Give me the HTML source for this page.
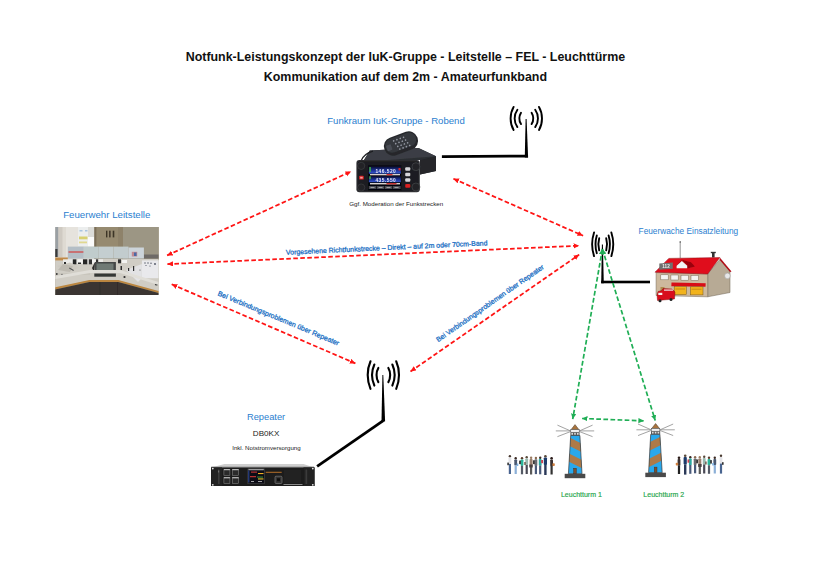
<!DOCTYPE html>
<html><head><meta charset="utf-8">
<style>
html,body{margin:0;padding:0;background:#fff;width:820px;height:580px;overflow:hidden}
svg{display:block}
text{font-family:"Liberation Sans",sans-serif}
</style></head>
<body>
<svg width="820" height="580" viewBox="0 0 820 580">
<defs>
  <linearGradient id="scr" x1="0" y1="0" x2="0" y2="1"><stop offset="0" stop-color="#0a0f30"/><stop offset="0.6" stop-color="#1e34a0"/><stop offset="1" stop-color="#3a5ad0"/></linearGradient>
  <filter id="bl" x="-10%" y="-10%" width="120%" height="120%"><feGaussianBlur stdDeviation="0.35"/></filter>
  <marker id="ar" markerUnits="userSpaceOnUse" markerWidth="8" markerHeight="8" refX="5.6" refY="2.6" orient="auto-start-reverse">
    <path d="M0,0 L5.6,2.6 L0,5.2 Z" fill="#ff1414"/>
  </marker>
  <marker id="ag" markerUnits="userSpaceOnUse" markerWidth="8" markerHeight="8" refX="5.4" refY="2.6" orient="auto-start-reverse">
    <path d="M0,0 L5.4,2.6 L0,5.2 Z" fill="#1fae55"/>
  </marker>
  <g id="ant">
    <g fill="none" stroke="#000" stroke-width="1.8" stroke-linecap="round">
      <path d="M-5.3,-5.7 Q-8.3,0 -5.3,5.7"/>
      <path d="M-8.9,-8.7 Q-14.4,0 -8.9,8.7"/>
      <path d="M-12.7,-11.5 Q-18.7,0 -12.7,11.5"/>
      <path d="M5.3,-5.7 Q8.3,0 5.3,5.7"/>
      <path d="M8.9,-8.7 Q14.4,0 8.9,8.7"/>
      <path d="M12.7,-11.5 Q18.7,0 12.7,11.5"/>
    </g>
  </g>
</defs>

<!-- Title -->
<text x="405.4" y="60.8" font-size="12.43" font-weight="bold" text-anchor="middle" fill="#111">Notfunk-Leistungskonzept der IuK-Gruppe - Leitstelle – FEL - Leuchttürme</text>
<text x="405.4" y="81.1" font-size="12.43" font-weight="bold" text-anchor="middle" fill="#111">Kommunikation auf dem 2m - Amateurfunkband</text>

<!-- Labels -->
<text x="396" y="124" font-size="9.6" text-anchor="middle" fill="#2b80cf">Funkraum IuK-Gruppe - Robend</text>
<text x="106.8" y="217.8" font-size="9.7" text-anchor="middle" fill="#2b80cf">Feuerwehr Leitstelle</text>
<text x="688.4" y="233.5" font-size="8.3" text-anchor="middle" fill="#2b80cf">Feuerwache Einsatzleitung</text>
<text x="266.1" y="419.5" font-size="9.3" text-anchor="middle" fill="#2b80cf">Repeater</text>
<text x="266.1" y="435.7" font-size="8.1" text-anchor="middle" fill="#222">DB0KX</text>
<text x="266.4" y="449.8" font-size="6.14" text-anchor="middle" fill="#222">Inkl. Notstromversorgung</text>
<text x="396.2" y="205.7" font-size="6.2" text-anchor="middle" fill="#222">Ggf. Moderation der Funkstrecken</text>
<text x="581.4" y="496.9" font-size="7" text-anchor="middle" fill="#1ea54a" stroke="#1ea54a" stroke-width="0.15">Leuchtturm 1</text>
<text x="663.8" y="496.9" font-size="7" text-anchor="middle" fill="#1ea54a" stroke="#1ea54a" stroke-width="0.15">Leuchtturm 2</text>

<!-- rotated labels -->
<text transform="translate(286.1,254.8) rotate(-2.7)" font-size="6.93" fill="#1a6fc4" stroke="#1a6fc4" stroke-width="0.28">Vorgesehene Richtfunkstrecke – Direkt – auf 2m oder 70cm-Band</text>
<text transform="translate(217.3,295.3) rotate(22.6)" font-size="7" fill="#1a6fc4" stroke="#1a6fc4" stroke-width="0.28">Bei Verbindungsproblemen über Repeater</text>
<text transform="translate(438.2,342.3) rotate(-34.9)" font-size="6.95" fill="#1a6fc4" stroke="#1a6fc4" stroke-width="0.28">Bei Verbindungsproblemen über Repeater</text>

<!-- Red dashed arrows -->
<g fill="none" stroke="#ff1414" stroke-width="1.75" stroke-dasharray="4.6 2.4" marker-start="url(#ar)" marker-end="url(#ar)">
  <line x1="167.1" y1="255.4" x2="351.1" y2="171.5"/>
  <line x1="167.4" y1="264.1" x2="579.2" y2="245.7"/>
  <line x1="453.4" y1="178.7" x2="583.1" y2="235.7"/>
  <line x1="410.5" y1="371.5" x2="579.2" y2="254.6"/>
  <line x1="171.7" y1="284.3" x2="355.4" y2="363.4"/>
</g>

<!-- Antenna top (Robend) -->
<g fill="none" stroke="#000" stroke-width="1.9" stroke-linecap="round"><path d="M521.00,112.70 A6.80,9.10 0 0 0 521.00,124.10"/><path d="M531.60,112.70 A6.80,9.10 0 0 1 531.60,124.10"/><path d="M517.40,109.70 A11.65,13.48 0 0 0 517.40,127.10"/><path d="M535.20,109.70 A11.65,13.48 0 0 1 535.20,127.10"/><path d="M513.60,106.90 A15.70,19.56 0 0 0 513.60,129.90"/><path d="M539.00,106.90 A15.70,19.56 0 0 1 539.00,129.90"/></g>
<path d="M525.6,119 L526.6,119 L528.1,157.5 L524.8,157.5 Z" fill="#000"/>
<path d="M441.9,155.3 L528,154.7 L528,157.5 L441.9,158 Z" fill="#000"/>

<!-- Antenna right (Feuerwache) -->
<g fill="none" stroke="#000" stroke-width="1.9" stroke-linecap="round"><path d="M599.20,238.20 A4.30,10.50 0 0 0 599.20,250.40"/><path d="M606.20,238.20 A4.30,10.50 0 0 1 606.20,250.40"/><path d="M596.80,235.40 A7.10,16.00 0 0 0 596.80,253.20"/><path d="M608.60,235.40 A7.10,16.00 0 0 1 608.60,253.20"/><path d="M594.05,232.50 A10.40,21.25 0 0 0 594.05,256.10"/><path d="M611.35,232.50 A10.40,21.25 0 0 1 611.35,256.10"/></g>
<path d="M601.9,244.5 L602.9,244.5 L603.8,283.3 L601.2,283.3 Z" fill="#000"/>
<rect x="601.2" y="280.7" width="48.8" height="2.6" fill="#000"/>

<!-- Antenna repeater -->
<g fill="none" stroke="#000" stroke-width="2.1" stroke-linecap="round"><path d="M378.35,367.95 A6.80,10.48 0 0 0 378.35,382.15"/><path d="M388.35,367.95 A6.80,10.48 0 0 1 388.35,382.15"/><path d="M374.35,364.55 A11.10,17.94 0 0 0 374.35,385.55"/><path d="M392.35,364.55 A11.10,17.94 0 0 1 392.35,385.55"/><path d="M370.50,361.25 A15.65,24.18 0 0 0 370.50,388.85"/><path d="M396.20,361.25 A15.65,24.18 0 0 1 396.20,388.85"/></g>
<path d="M382.4,375 L383.3,375 L385.1,421.5 L381.5,421.5 Z" fill="#000"/>
<line x1="317.1" y1="466.3" x2="383.3" y2="420.6" stroke="#000" stroke-width="2.8"/>

<!-- Green dashed arrows -->
<g fill="none" stroke="#1fae55" stroke-width="1.7" stroke-dasharray="4.7 2.4" marker-start="url(#ag)" marker-end="url(#ag)">
  <line x1="602.4" y1="249" x2="572.7" y2="419.1"/>
  <line x1="602.4" y1="249" x2="655.2" y2="420.5"/>
  <line x1="582.1" y1="418.5" x2="643.8" y2="420.8"/>
</g>

<!-- Leitstelle photo -->
<g id="leit" filter="url(#bl)">
  <rect x="55.3" y="227" width="103.2" height="68" fill="#a59c8a"/>
  <!-- left wall -->
  <rect x="55.3" y="227" width="39.5" height="32" fill="#dedad2"/>
  <rect x="55.3" y="227" width="3.2" height="30" fill="#9aa0a4"/>
  <rect x="55.3" y="249" width="2.2" height="8" fill="#3a3a3a"/>
  <rect x="58.5" y="227" width="4" height="30" fill="#cfcac2"/>
  <rect x="66" y="227" width="12" height="30" fill="#e6e3dd"/>
  <rect x="78" y="227" width="10" height="19.5" fill="#eceeee"/>
  <rect x="79.5" y="230" width="3" height="1.5" fill="#a8c4e0"/>
  <rect x="85" y="230" width="2.5" height="1.5" fill="#a8c4e0"/>
  <rect x="79" y="236.5" width="8.5" height="2.8" fill="#d8d070"/>
  <rect x="79" y="241.5" width="8" height="1.8" fill="#e0d890"/>
  <rect x="88" y="227" width="6.6" height="10" fill="#dcdcd8"/>
  <rect x="88" y="237" width="6.6" height="9.5" fill="#fbfbfa"/>
  <!-- right wall -->
  <rect x="94.4" y="227" width="64.1" height="33" fill="#968a70"/>
  <rect x="94.4" y="227" width="2" height="33" fill="#7a6e58"/>
  <rect x="118" y="227" width="5" height="33" fill="#8e826a"/>
  <rect x="123" y="227" width="35.5" height="33" fill="#9c9684"/>
  <rect x="106" y="230.7" width="1.4" height="6.7" fill="#3e3428"/>
  <rect x="109.1" y="230.7" width="1.5" height="6.7" fill="#3e3428"/>
  <rect x="112.7" y="230.7" width="1.6" height="6.7" fill="#3e3428"/>
  <rect x="143.9" y="254.5" width="14.6" height="4" fill="#6e6a66"/>
  <!-- monitors -->
  <rect x="67.8" y="246.6" width="16" height="12" fill="#b4bec6"/>
  <rect x="68.5" y="251.3" width="15" height="1.4" fill="#d05050"/>
  <rect x="83.8" y="246.6" width="15" height="12" fill="#c0cccc"/>
  <rect x="98.8" y="246.6" width="14.5" height="12" fill="#c4ced0"/>
  <rect x="113.3" y="246.6" width="15.2" height="12" fill="#c2ccce"/>
  <rect x="128.5" y="247.5" width="15.4" height="11" fill="#ccd4da"/>
  <rect x="131.8" y="251.8" width="5.4" height="4.7" fill="#c08890"/>
  <rect x="134" y="252.5" width="2.5" height="3.5" fill="#4a6aa8"/>
  <!-- desk -->
  <path d="M55.3,259 L158.5,259 L158.5,292 L118.3,280.5 L89.5,280.5 L55.3,288 Z" fill="#d0cdc5"/>
  <rect x="55.3" y="257.5" width="12.5" height="2.9" fill="#c08a48"/>
  <rect x="63" y="259.3" width="40" height="4.5" fill="#ecebe8"/>
  <rect x="72.8" y="259.3" width="3.6" height="5" fill="#262626"/>
  <rect x="83" y="259.3" width="4.3" height="5" fill="#262626"/>
  <rect x="88.8" y="259.3" width="3.2" height="5" fill="#303030"/>
  <rect x="96" y="259.3" width="2.2" height="5" fill="#303030"/>
  <rect x="118" y="259.3" width="3" height="4" fill="#333"/>
  <path d="M57,266 L70,262.5 L80,268 L66,272 Z" fill="#cdc9c0"/>
  <rect x="68" y="268" width="3" height="1.5" fill="#6a6a6a" transform="rotate(35 69 269)"/>
  <rect x="56" y="273" width="34" height="2" fill="#c9c6bd"/>
  <circle cx="56.8" cy="274" r="0.9" fill="#333"/>
  <circle cx="62" cy="274.5" r="0.7" fill="#555"/>
  <rect x="94.5" y="262" width="21.4" height="9.7" fill="#454746"/>
  <rect x="96.5" y="263.5" width="17" height="6.5" fill="#6f7a74"/>
  <rect x="94.3" y="273.5" width="21.6" height="3.2" fill="#363736"/>
  <path d="M92,268 L95,262 L94,272 Z" fill="#2a2a2a"/>
  <rect x="141.9" y="260.4" width="16.6" height="17.8" fill="#e9e9ec"/>
  <g fill="#4a5060"><circle cx="145" cy="263" r="0.7"/><circle cx="148" cy="263" r="0.7"/><circle cx="151" cy="263.3" r="0.7"/><circle cx="155" cy="264" r="0.9"/><circle cx="146" cy="265.5" r="0.6"/><circle cx="150" cy="266" r="0.6"/></g>
  <path d="M126,270 L141.9,264 L141.9,278 L138,282 Z" fill="#e2e2e4"/>
  <circle cx="124.5" cy="277" r="1.1" fill="#2a2a2a"/>
  <circle cx="156.4" cy="284" r="1.6" fill="#3a3a3a"/>
  <circle cx="140" cy="270" r="0.6" fill="#555"/>
  <path d="M55.3,276 L90,270 L120,270 L158.5,282 L158.5,285 L120,273 L90,273 L55.3,279 Z" fill="#e0ded8"/>
  <g fill="#2e2e2e"><rect x="64" y="262" width="2" height="2"/><rect x="78" y="261" width="3" height="3"/><rect x="120.5" y="266" width="1.5" height="4"/><rect x="128" y="268" width="1.2" height="3"/><rect x="133" y="266" width="1.2" height="5"/></g>
  <g fill="#f4f4f2"><rect x="78" y="259.5" width="4" height="3"/><rect x="92" y="259.5" width="3" height="3"/><rect x="122" y="260" width="5" height="3"/></g>
  <path d="M58,270 L63,264 L73,266 L70,272 Z" fill="#bdb9b0"/>
  <rect x="69" y="268.5" width="5" height="1" fill="#555" transform="rotate(30 71 269)"/>
  <!-- wooden edge -->
  <path d="M55.3,287.3 L89.5,280 L118.3,280 L158.5,291 L158.5,293 L118.3,282 L89.5,282 L55.3,289.6 Z" fill="#bb8640"/>
  <path d="M55.3,289.6 L89.5,282 L118.3,282 L158.5,293 L158.5,295 L55.3,295 Z" fill="#3a3632"/>
  <path d="M100,282 L100,295 M117.5,282 L117.5,295" stroke="#2e2a28" stroke-width="0.8"/>
</g>

<!-- Radio -->
<g id="radio" filter="url(#bl)">
  <path d="M369.8,150.4 L418.5,148 L436,156.3 L436,171 L420,174.5 L420,160 L364,160 Z" fill="#2c2e33"/>
  <path d="M369.8,150.4 L418.5,148 L436,156.3 L388,160 L364,160 Z" fill="#3b3e44"/>
  <path d="M420,160 L436,156.3 L436,171 L420,174.5 Z" fill="#25272b"/>
  <path d="M361,161 C363,156 368,152.5 373,151.2" fill="none" stroke="#1e1f22" stroke-width="1.3"/>
  <g transform="translate(401,143.5) rotate(-20)">
    <rect x="-17.5" y="-9.3" width="35" height="18.6" rx="9" fill="#26282c"/>
    <rect x="-16" y="-8" width="32" height="14" rx="7" fill="#34373c"/>
    <rect x="-15" y="-3" width="5" height="6" rx="1" fill="#4a4d54"/>
    <g fill="#9296a0">
      <circle cx="-6" cy="-5" r="0.85"/><circle cx="-2.5" cy="-5" r="0.85"/><circle cx="1" cy="-5" r="0.85"/><circle cx="4.5" cy="-5" r="0.85"/>
      <circle cx="-5" cy="-1.7" r="0.85"/><circle cx="-1.5" cy="-1.7" r="0.85"/><circle cx="2" cy="-1.7" r="0.85"/><circle cx="5.5" cy="-1.7" r="0.85"/>
      <circle cx="-4" cy="1.6" r="0.85"/><circle cx="-0.5" cy="1.6" r="0.85"/><circle cx="3" cy="1.6" r="0.85"/><circle cx="6.5" cy="1.6" r="0.85"/>
      <circle cx="-3" cy="4.8" r="0.85"/><circle cx="0.5" cy="4.8" r="0.85"/><circle cx="4" cy="4.8" r="0.85"/><circle cx="7.5" cy="4.8" r="0.85"/>
    </g>
  </g>
  <rect x="356.4" y="160" width="63.4" height="32.3" rx="3" fill="#2e2f33"/>
  <rect x="357.6" y="161.2" width="61" height="29.9" rx="2.4" fill="#1c1d20"/>
  <rect x="368.1" y="165.5" width="33.3" height="24.8" fill="#050608"/>
  <rect x="368.8" y="166.4" width="32" height="7.2" fill="url(#scr)"/>
  <rect x="368.8" y="176.2" width="32" height="6" fill="url(#scr)"/>
  <rect x="369.4" y="167" width="1.3" height="5" fill="#48c040"/>
  <rect x="369.4" y="176.2" width="1.3" height="3" fill="#48c040"/>
  <rect x="398.5" y="168" width="2" height="2.5" fill="#d82828"/>
  <rect x="370" y="174" width="30" height="1.3" fill="#d8d0d0"/>
  <rect x="386.5" y="174" width="6" height="1.3" fill="#d83030"/>
  <rect x="370" y="183" width="30" height="1.4" fill="#d8d0d0"/>
  <rect x="386.5" y="183" width="10" height="1.4" fill="#c83030"/>
  <text x="385.8" y="172.6" font-size="4.8" font-weight="bold" text-anchor="middle" fill="#e8ecf8" letter-spacing="0.5">146.520</text>
  <text x="385.8" y="181.8" font-size="4.8" font-weight="bold" text-anchor="middle" fill="#e8ecf8" letter-spacing="0.5">435.550</text>
  <g fill="#4a4c52"><rect x="368.8" y="186" width="7.4" height="3"/><rect x="376.8" y="186" width="7.4" height="3"/><rect x="384.8" y="186" width="7.4" height="3"/><rect x="392.8" y="186" width="7.8" height="3"/></g>
  <g fill="#d8d8dc"><rect x="370.5" y="187.2" width="4" height="0.6"/><rect x="378.5" y="187.2" width="4" height="0.6"/><rect x="386.5" y="187.2" width="4" height="0.6"/><rect x="394.5" y="187.2" width="4" height="0.6"/></g>
  <rect x="359.1" y="175.8" width="4.7" height="3.8" rx="0.9" fill="#d82020"/>
  <rect x="360.2" y="176.8" width="2.5" height="1.8" fill="#f0a0a0"/>
  <circle cx="361.2" cy="165.9" r="3.6" fill="#232427" stroke="#3c3d42" stroke-width="0.7"/>
  <circle cx="361.2" cy="187.5" r="3.6" fill="#232427" stroke="#3c3d42" stroke-width="0.7"/>
  <rect x="405.2" y="167.2" width="5.1" height="3.5" rx="1" fill="#d6d6da"/>
  <rect x="405.2" y="172.8" width="5.1" height="3.4" rx="1" fill="#d6d6da"/>
  <rect x="405.2" y="178.3" width="5.1" height="3.5" rx="1" fill="#d6d6da"/>
  <rect x="405.2" y="183.9" width="5.1" height="3.8" rx="1" fill="#d82020"/>
  <circle cx="415.9" cy="166.7" r="4" fill="#232427" stroke="#45464b" stroke-width="0.7"/>
  <circle cx="415.9" cy="187" r="4" fill="#232427" stroke="#45464b" stroke-width="0.7"/>
</g>

<!-- Repeater device -->
<g id="rep" filter="url(#bl)">
  <path d="M224.5,463.9 L303.5,463.9 L314,467.4 L211.3,467.4 Z" fill="#cfcfcf"/>
  <path d="M211.3,466.6 L314,466.6 L314,467.4 L211.3,467.4 Z" fill="#9a9a9a"/>
  <rect x="211.1" y="467.4" width="103.4" height="18.6" fill="#1b1b1b"/>
  <rect x="211.1" y="467.4" width="11" height="18.6" fill="#202020"/>
  <rect x="303.5" y="467.4" width="11" height="18.6" fill="#202020"/>
  <circle cx="212.8" cy="468.6" r="0.9" fill="#e8e8e8"/><circle cx="212.8" cy="484.8" r="0.9" fill="#e8e8e8"/>
  <circle cx="312.8" cy="468.6" r="0.9" fill="#e8e8e8"/><circle cx="312.8" cy="484.8" r="0.9" fill="#e8e8e8"/>
  <rect x="217.9" y="469.5" width="1.8" height="14.5" fill="#3a3a3a"/>
  <rect x="218.3" y="470.5" width="0.8" height="2" fill="#888"/>
  <rect x="305.5" y="469.5" width="1.8" height="14.5" fill="#3a3a3a"/>
  <g fill="#2a2a2a" stroke="#8a8a8a" stroke-width="0.55">
    <rect x="223.9" y="469.3" width="6" height="6"/><rect x="223.9" y="477.4" width="6" height="6"/>
    <rect x="232.3" y="469.3" width="6.4" height="6"/><rect x="232.3" y="477.4" width="6.4" height="6"/>
  </g>
  <g fill="#cfcfcf"><rect x="224" y="469.2" width="5.8" height="1"/><rect x="224" y="477.3" width="5.8" height="1"/><rect x="232.4" y="469.2" width="6.2" height="1"/><rect x="232.4" y="477.3" width="6.2" height="1"/></g>
  <rect x="247.9" y="468.8" width="16.4" height="15" fill="#0d0d14" stroke="#555" stroke-width="0.5"/>
  <rect x="248.4" y="469.3" width="15.4" height="0.9" fill="#d8d8d8"/>
  <rect x="248.4" y="470.5" width="0.9" height="12" fill="#3050b0"/>
  <rect x="251" y="471.6" width="6" height="1" fill="#d83a3a"/>
  <rect x="258" y="473" width="5.5" height="1.1" fill="#f0b020"/>
  <rect x="250" y="476.2" width="6" height="1" fill="#e03a3a"/>
  <rect x="257" y="476.6" width="6" height="0.9" fill="#40a040"/>
  <rect x="258" y="478.4" width="5.5" height="1.1" fill="#e8c030"/>
  <rect x="251" y="481.2" width="3" height="0.8" fill="#c8c8c8"/>
  <rect x="258" y="481.2" width="4" height="0.8" fill="#c8c8c8"/>
  <rect x="265.7" y="471.8" width="16" height="0.9" fill="#c87a2a"/>
  <rect x="275" y="476.2" width="7" height="7.3" rx="1" fill="#333" stroke="#999" stroke-width="0.5"/>
  <rect x="277" y="478.2" width="3" height="3" fill="#0c0c0c"/>
  <rect x="283.5" y="469.5" width="18" height="14" fill="#242424"/>
  <rect x="283.5" y="484" width="19" height="1" fill="#8a8a8a"/>
</g>

<!-- Fire station -->
<g id="fw" filter="url(#bl)">
  <line x1="680.2" y1="241.7" x2="680.2" y2="258" stroke="#777" stroke-width="0.8"/>
  <circle cx="680.2" cy="241.9" r="0.7" fill="#333"/>
  <rect x="712" y="252.5" width="2.6" height="5" fill="#333"/>
  <rect x="710.8" y="251.8" width="5" height="1.4" fill="#333"/>
  <!-- side wall -->
  <path d="M707.7,273.9 L719.8,259.5 L730,271.2 L730,292.5 L707.7,296.8 Z" fill="#b7aa95" stroke="#6e6253" stroke-width="0.5"/>
  <!-- front wall -->
  <path d="M656.1,272.6 L707.7,273.9 L707.7,296.8 L656.1,295.5 Z" fill="#cdb99d" stroke="#6e6253" stroke-width="0.5"/>
  <!-- roof -->
  <path d="M655,272.2 L668.8,258.4 L719.8,257.6 L707.7,274 Z" fill="#e0101c" stroke="#8a0a10" stroke-width="0.5"/>
  <path d="M719.8,257.6 L731.5,271.5 L730,272 L719.8,260 Z" fill="#b00a14"/>
  <!-- 112 sign -->
  <path d="M659.3,263.5 L672.8,262.6 L672.8,268.8 L659.3,269.8 Z" fill="#707070"/>
  <text x="666" y="268.2" font-size="4.6" font-weight="bold" text-anchor="middle" fill="#eee">112</text>
  <!-- dormer -->
  <path d="M681.9,259.8 L691,262.3 L695,266.5 L687.6,268.4 Z" fill="#9a0610"/>
  <path d="M675.8,266 L681.9,259.6 L688.2,266 Z" fill="#b80812"/>
  <path d="M676.6,268.3 L676.6,265.8 L681.9,261 L687.2,265.8 L687.2,268.3 Z" fill="#f2f6f8"/>
  <!-- windows -->
  <g fill="#f4f4f2" stroke="#7a6a58" stroke-width="0.5">
    <rect x="660.8" y="274.8" width="7.4" height="5"/>
    <rect x="670.9" y="275" width="7.3" height="5"/>
    <rect x="681" y="275.2" width="7.4" height="5"/>
    <rect x="691" y="275.4" width="7.4" height="5"/>
  </g>
  <!-- awning -->
  <path d="M671.5,282.5 L705.7,283.2 L705.5,286.8 L671.3,286.2 Z" fill="#d80c18"/>
  <!-- garage doors -->
  <rect x="674.2" y="286.6" width="12.1" height="8.1" fill="#f2b31c" stroke="#7a5a20" stroke-width="0.5"/>
  <rect x="690.3" y="286.8" width="12.7" height="8.1" fill="#f2b31c" stroke="#7a5a20" stroke-width="0.5"/>
  <rect x="675.5" y="288.5" width="9.5" height="1" fill="#c88a10"/>
  <rect x="691.5" y="288.7" width="10" height="1" fill="#c88a10"/>
  <!-- door left -->
  <rect x="660.5" y="287" width="4" height="5" fill="#b08a50"/>
  <!-- satellite dish -->
  <circle cx="727.4" cy="275.9" r="2.8" fill="#e8e8e8" stroke="#999" stroke-width="0.5"/>
  <!-- truck -->
  <path d="M657,295 L658,291.5 L662,290.5 L663,288.5 L672,289 L675,292 L674.5,299 L657.5,300.5 Z" fill="#d8101c" stroke="#700" stroke-width="0.4"/>
  <rect x="658.3" y="292.8" width="4" height="2.2" fill="#f4f4f4"/>
  <circle cx="660" cy="300.8" r="1.5" fill="#222"/>
  <circle cx="671" cy="299.6" r="1.5" fill="#222"/>
  <rect x="664" y="289.5" width="9" height="1.2" fill="#e8e8e8"/>
</g>

<!-- Lighthouses -->
<defs>
  <clipPath id="tw1"><path d="M570.9,435.5 L580.2,435.5 L582.2,473.8 L568.3,473.8 Z"/></clipPath>
  <g id="lh">
    <!-- rays -->
    <g stroke="#8c8c8c" stroke-width="0.8" stroke-linecap="round">
      <line x1="-4.5" y1="6.3" x2="-17.2" y2="0.7"/>
      <line x1="-4.5" y1="6.3" x2="-18.8" y2="6.3"/>
      <line x1="-4.5" y1="7" x2="-17.2" y2="11.9"/>
      <line x1="4.5" y1="6.3" x2="17.2" y2="0.7"/>
      <line x1="4.5" y1="6.3" x2="18.8" y2="6.3"/>
      <line x1="4.5" y1="7" x2="17.2" y2="11.9"/>
    </g>
    <!-- cap -->
    <path d="M0,0 L4,5.1 L-4,5.1 Z" fill="#a8743e" stroke="#4a3a2a" stroke-width="0.5"/>
    <rect x="-4.2" y="5.1" width="8.4" height="2.6" fill="#f0f0f0" stroke="#4a4a4a" stroke-width="0.5"/>
    <rect x="-4.6" y="7.7" width="9.2" height="3.2" fill="#5a5a5a"/>
    <rect x="-3.6" y="8.3" width="1.6" height="1.8" fill="#ddd"/>
    <rect x="-0.8" y="8.3" width="1.6" height="1.8" fill="#ddd"/>
    <rect x="2" y="8.3" width="1.6" height="1.8" fill="#ddd"/>
    <!-- tower -->
    <g clip-path="url(#twc)">
      <rect x="-8" y="10" width="16" height="40" fill="#29a8ec"/>
      <path d="M-8,11.7 L8,19.7 L8,28.1 L-8,20.1 Z" fill="#ad7a48"/>
      <path d="M-8,28 L8,36 L8,44.2 L-8,36.2 Z" fill="#ad7a48"/>
    </g>
    <path d="M-4.3,10.9 L4.9,10.9 L7,49.2 L-6.6,49.2 Z" fill="none" stroke="#3a3a3a" stroke-width="0.7"/>
    <rect x="-1.4" y="43.6" width="2.8" height="5.6" fill="#7a5030" stroke="#3a2a20" stroke-width="0.4"/>
    <rect x="-10.3" y="49.2" width="20.6" height="4.4" fill="#4a4a4a"/>
  </g>
  <clipPath id="twc"><path d="M-4.3,10.9 L4.9,10.9 L7,49.2 L-6.6,49.2 Z"/></clipPath>
</defs>
<use href="#lh" transform="translate(575,424.6)"/>
<use href="#lh" transform="translate(655.6,423.5) scale(-1,1)"/>

<!-- People -->
<defs>
  <g id="pp">
    <!-- person: head, torso, legs -->
    <g id="p1"><circle cx="0" cy="1.2" r="1.2" fill="#5a4030"/><rect x="-1.4" y="2.4" width="2.8" height="6.5" rx="0.8" fill="#e8e8ea"/><rect x="-1.1" y="8.9" width="2.2" height="9.8" fill="#3e5a8a"/><rect x="-2.5" y="7.5" width="1.5" height="2.5" fill="#444"/></g>
  </g>
</defs>
<g id="people1" filter="url(#bl)">
  <g transform="translate(509.9,455)"><circle cx="0" cy="1.2" r="1.2" fill="#4a3a30"/><rect x="-1.4" y="2.4" width="2.8" height="6.8" rx="0.8" fill="#e4e4e8"/><rect x="-1.1" y="9" width="2.2" height="10" fill="#4a6590"/><rect x="-2.6" y="7.6" width="1.6" height="2.6" fill="#333"/></g>
  <g transform="translate(515.7,457)"><circle cx="0" cy="1.2" r="1.2" fill="#3a2a22"/><rect x="-1.4" y="2.4" width="2.8" height="6.2" rx="0.8" fill="#4a5870"/><rect x="-1.1" y="8.5" width="2.2" height="8.5" fill="#8cb0d8"/><rect x="1" y="6.5" width="1.6" height="2.5" fill="#7ab0e0"/></g>
  <g transform="translate(522,457)"><circle cx="0" cy="1.2" r="1.2" fill="#5a3a2a"/><rect x="-1.4" y="2.4" width="2.8" height="6.5" rx="0.8" fill="#2bb59a"/><rect x="-1.1" y="8.8" width="2.2" height="8.5" fill="#555a66"/><rect x="-2.8" y="3.6" width="1.6" height="3.5" fill="#222"/></g>
  <g transform="translate(526.7,456)"><circle cx="0" cy="1.2" r="1.2" fill="#5a4a3a"/><rect x="-1.4" y="2.4" width="2.8" height="6.8" rx="0.8" fill="#9ab8b0"/><rect x="-1.1" y="9" width="2.2" height="9" fill="#4a4a55"/><rect x="-2.4" y="6" width="1.4" height="3" fill="#6a5040"/></g>
  <g transform="translate(531.1,456.5)"><circle cx="0" cy="1.2" r="1.2" fill="#9a7a60"/><rect x="-1.5" y="2.4" width="3" height="8" rx="0.8" fill="#9a8070"/><rect x="-1.1" y="10.2" width="2.2" height="7.8" fill="#5a5a5a"/><rect x="-1.8" y="8" width="3.4" height="3" fill="#4a4040"/></g>
  <g transform="translate(535.9,456.8)"><circle cx="0" cy="1.2" r="1.2" fill="#8a6a50"/><rect x="-1.4" y="2.4" width="2.8" height="6.8" rx="0.8" fill="#6a6a70"/><rect x="-1.1" y="9" width="2.2" height="8.3" fill="#4a5a7a"/><rect x="-2.8" y="3.5" width="1.6" height="3.8" fill="#222"/></g>
  <g transform="translate(540.2,456.5)"><circle cx="0" cy="1.2" r="1.2" fill="#3a2a22"/><rect x="-1.4" y="2.4" width="2.8" height="6.8" rx="0.8" fill="#2aa8a0"/><rect x="-1.1" y="9" width="2.2" height="8.8" fill="#4a5a7a"/><rect x="1" y="3.5" width="1.8" height="3.2" fill="#d04050"/></g>
  <g transform="translate(545.4,455)"><circle cx="0" cy="1.2" r="1.3" fill="#5a4a3a"/><rect x="-1.6" y="2.5" width="3.2" height="7.5" rx="0.8" fill="#1e3a6a"/><rect x="-1.2" y="9.8" width="2.4" height="10.2" fill="#2a3858"/></g>
  <g transform="translate(551.6,457)"><circle cx="0" cy="1.2" r="1.3" fill="#2a1a16"/><rect x="-1.4" y="2.4" width="2.8" height="6.8" rx="0.8" fill="#3a3030"/><rect x="-1.1" y="9" width="2.2" height="8.5" fill="#333"/><rect x="0.8" y="6.3" width="2.4" height="2.8" rx="0.8" fill="#d08040"/></g>
</g>
<g id="people2" filter="url(#bl)">
  <g transform="translate(679,456.5)"><circle cx="0" cy="1.2" r="1.3" fill="#2a1a16"/><rect x="-1.4" y="2.4" width="2.8" height="6.8" rx="0.8" fill="#3a3030"/><rect x="-1.1" y="9" width="2.2" height="8.5" fill="#222"/><rect x="-3.2" y="6.3" width="2.4" height="2.8" rx="0.8" fill="#d08040"/></g>
  <g transform="translate(685.2,454.6)"><circle cx="0" cy="1.2" r="1.3" fill="#5a4a3a"/><rect x="-1.6" y="2.5" width="3.2" height="7.5" rx="0.8" fill="#1e3a6a"/><rect x="-1.2" y="9.8" width="2.4" height="10.2" fill="#2a3858"/></g>
  <g transform="translate(690.3,456)"><circle cx="0" cy="1.2" r="1.2" fill="#3a2a22"/><rect x="-1.4" y="2.4" width="2.8" height="6.8" rx="0.8" fill="#2aa8a0"/><rect x="-1.1" y="9" width="2.2" height="8.8" fill="#4a5a7a"/><rect x="-2.8" y="3.5" width="1.8" height="3.2" fill="#d04050"/></g>
  <g transform="translate(695.1,456)"><circle cx="0" cy="1.2" r="1.2" fill="#8a6a50"/><rect x="-1.4" y="2.4" width="2.8" height="6.8" rx="0.8" fill="#6a6a70"/><rect x="-1.1" y="9" width="2.2" height="8.3" fill="#4a5a7a"/><rect x="1.2" y="3.5" width="1.6" height="3.8" fill="#222"/></g>
  <g transform="translate(699.8,456)"><circle cx="0" cy="1.2" r="1.2" fill="#9a7a60"/><rect x="-1.5" y="2.4" width="3" height="8" rx="0.8" fill="#9a8070"/><rect x="-1.1" y="10.2" width="2.2" height="7.8" fill="#5a5a5a"/><rect x="-1.6" y="8" width="3.4" height="3" fill="#4a4040"/></g>
  <g transform="translate(704.2,455.5)"><circle cx="0" cy="1.2" r="1.2" fill="#5a4a3a"/><rect x="-1.4" y="2.4" width="2.8" height="6.8" rx="0.8" fill="#9ab8b0"/><rect x="-1.1" y="9" width="2.2" height="9" fill="#4a4a55"/><rect x="1" y="6" width="1.4" height="3" fill="#6a5040"/></g>
  <g transform="translate(709,456.5)"><circle cx="0" cy="1.2" r="1.2" fill="#5a3a2a"/><rect x="-1.4" y="2.4" width="2.8" height="6.5" rx="0.8" fill="#2bb59a"/><rect x="-1.1" y="8.8" width="2.2" height="8.5" fill="#555a66"/><rect x="1.2" y="3.6" width="1.6" height="3.5" fill="#222"/></g>
  <g transform="translate(714.8,456.5)"><circle cx="0" cy="1.2" r="1.2" fill="#3a2a22"/><rect x="-1.4" y="2.4" width="2.8" height="6.2" rx="0.8" fill="#4a5870"/><rect x="-1.1" y="8.5" width="2.2" height="8.5" fill="#8cb0d8"/><rect x="-2.6" y="6.5" width="1.6" height="2.5" fill="#7ab0e0"/></g>
  <g transform="translate(721,454.6)"><circle cx="0" cy="1.2" r="1.2" fill="#4a3a30"/><rect x="-1.4" y="2.4" width="2.8" height="6.8" rx="0.8" fill="#e4e4e8"/><rect x="-1.1" y="9" width="2.2" height="10" fill="#4a6590"/><rect x="1" y="7.6" width="1.6" height="2.6" fill="#333"/></g>
</g>

</svg>
</body></html>
